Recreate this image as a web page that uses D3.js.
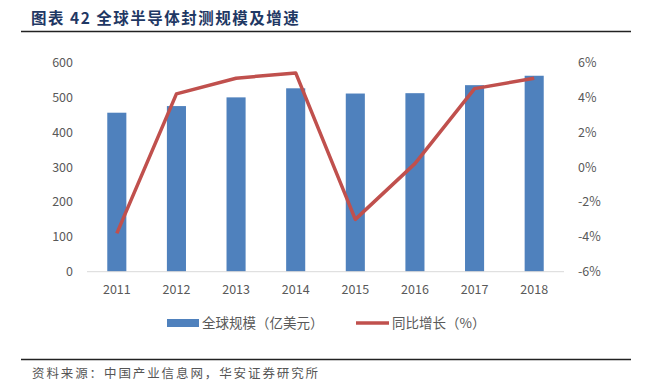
<!DOCTYPE html>
<html><head><meta charset="utf-8">
<script src="https://cdn.jsdelivr.net/npm/d3@7"></script>
<style>body{margin:0;background:#fff}svg{display:block}</style>
</head><body>
<script>
const years = ["2011","2012","2013","2014","2015","2016","2017","2018"];
const marketSize = [456, 475, 500, 526, 511, 512, 535, 562];
const growth = [-3.8, 4.2, 5.1, 5.4, -3.0, 0.2, 4.5, 5.1];
const leftTicks = [0,100,200,300,400,500,600];
const rightTicks = [-6,-4,-2,0,2,4,6];
const titleText = "图表 42  全球半导体封测规模及增速";
const legendLabels = ["全球规模（亿美元）", "同比增长（%）"];
const sourceText = "资料来源：中国产业信息网，华安证券研究所";

const W = 649, H = 387;
const svg = d3.select("body").append("svg").attr("width", W).attr("height", H);
const font = "'Noto Sans CJK SC', 'Noto Sans', sans-serif";
const gray = "#595959";

svg.append("text").attr("x", 31).attr("y", 24).text(titleText)
  .attr("font-family", font).attr("font-weight", "bold").attr("font-size", 15.5)
  .attr("letter-spacing", 1.5).attr("fill", "#1f3864");
svg.append("line").attr("x1", 21).attr("x2", 631).attr("y1", 31.5).attr("y2", 31.5)
  .attr("stroke", "#222").attr("stroke-width", 1.3);

const x = d3.scaleBand().domain(years).range([87, 564]).paddingInner(0.68).paddingOuter(0.34);
const yL = d3.scaleLinear().domain([0, 600]).range([271.7, 62.5]);
const yR = d3.scaleLinear().domain([-6, 6]).range([271.7, 62.5]);

svg.selectAll("rect.bar").data(years).join("rect").attr("class","bar")
  .attr("x", d => x(d)).attr("width", x.bandwidth())
  .attr("y", (d,i) => yL(marketSize[i])).attr("height", (d,i) => yL(0) - yL(marketSize[i]))
  .attr("fill", "#4f81bd");

svg.append("line").attr("x1", 87).attr("x2", 564).attr("y1", yL(0)).attr("y2", yL(0))
  .attr("stroke", "#d9d9d9").attr("stroke-width", 1);

const line = d3.line().x((d,i) => x(years[i]) + x.bandwidth()/2).y(d => yR(d));
svg.append("path").datum(growth).attr("d", line).attr("fill", "none")
  .attr("stroke", "#c0504d").attr("stroke-width", 3.5).attr("stroke-linejoin", "round");

const axL = d3.axisLeft(yL).tickValues(leftTicks).tickSize(0).tickPadding(0);
const gL = svg.append("g").attr("transform", "translate(73,0)").call(axL);
const axR = d3.axisRight(yR).tickValues(rightTicks).tickSize(0).tickPadding(0).tickFormat(d => d + "%");
const gR = svg.append("g").attr("transform", "translate(578,0)").call(axR);
const axB = d3.axisBottom(x).tickSize(0).tickPadding(0);
const gB = svg.append("g").attr("transform", "translate(0,285)").call(axB);
[gL, gR, gB].forEach(g => {
  g.select(".domain").remove();
  g.selectAll("text").attr("font-family", font).attr("font-size", 12.5).attr("fill", gray);
});
gB.selectAll("text").attr("dy", "0.71em");

// legend
svg.append("rect").attr("x", 167).attr("y", 319).attr("width", 32).attr("height", 8).attr("fill", "#4f81bd");
svg.append("text").attr("x", 202).attr("y", 328).text(legendLabels[0])
  .attr("font-family", font).attr("font-size", 13.5).attr("fill", gray);
svg.append("line").attr("x1", 356).attr("x2", 389).attr("y1", 323).attr("y2", 323)
  .attr("stroke", "#c0504d").attr("stroke-width", 3.5);
svg.append("text").attr("x", 392).attr("y", 328).text(legendLabels[1])
  .attr("font-family", font).attr("font-size", 13.5).attr("fill", gray);

svg.append("line").attr("x1", 21).attr("x2", 631).attr("y1", 359.5).attr("y2", 359.5)
  .attr("stroke", "#222").attr("stroke-width", 1.3);
svg.append("text").attr("x", 32).attr("y", 378).text(sourceText)
  .attr("font-family", font).attr("font-size", 12.5).attr("letter-spacing", 1.9).attr("fill", "#555");
</script>
</body></html>
